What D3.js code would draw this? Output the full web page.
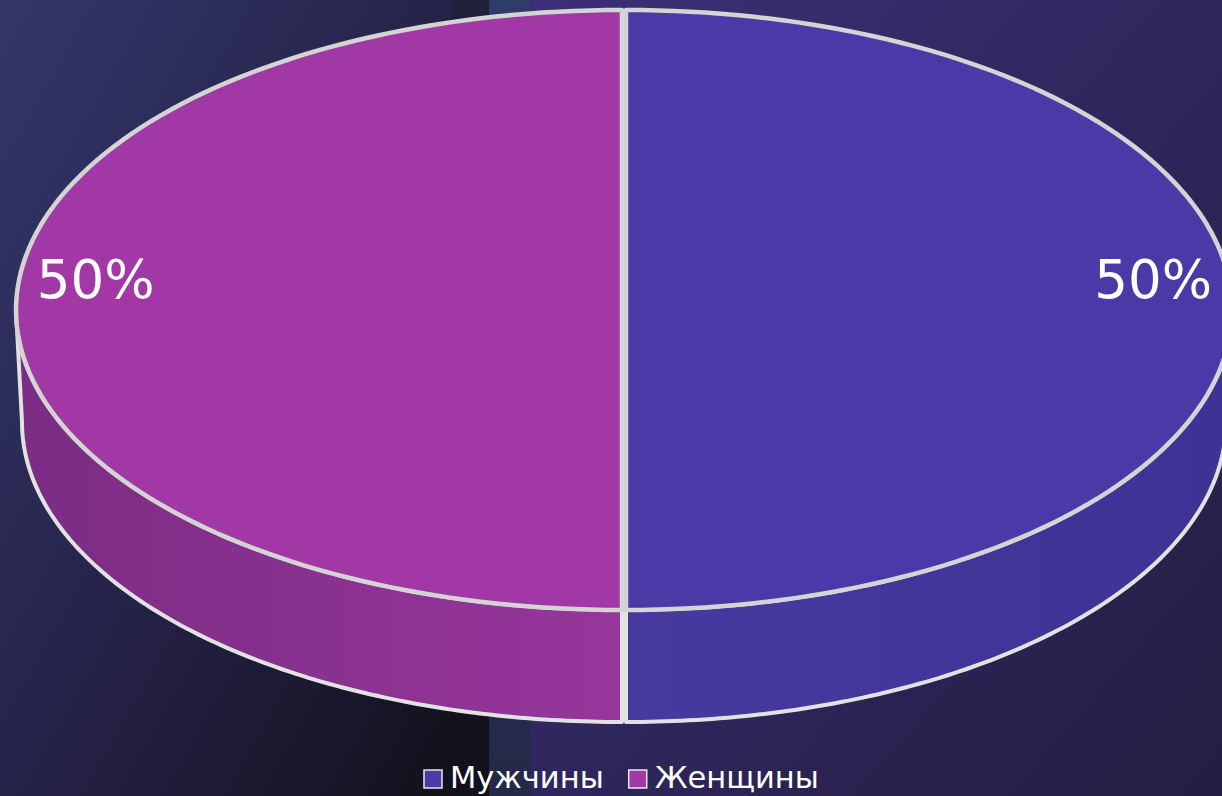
<!DOCTYPE html>
<html><head><meta charset="utf-8">
<script src="https://cdn.jsdelivr.net/npm/d3@7"></script>
<style>html,body{margin:0;padding:0;background:#1e1c38;overflow:hidden}svg{display:block}</style>
</head><body>
<script>
const categories = ["Мужчины", "Женщины"];
const values = [50, 50];
const labels = ["50%", "50%"];
const topColors = ["#4a3aa8", "#a238a5"];
const sideDark = ["#3c3395", "#7b2c83"];
const sideLight = ["#463a9f", "#97369c"];

const W = 1222, H = 796;
const svg = d3.select("body").append("svg").attr("width", W).attr("height", H)
  .style("font-family", "'DejaVu Sans', sans-serif");
const defs = svg.append("defs");

function lg(id, x1, y1, x2, y2, stops) {
  const g = defs.append("linearGradient").attr("id", id)
    .attr("x1", x1).attr("y1", y1).attr("x2", x2).attr("y2", y2);
  stops.forEach(s => g.append("stop").attr("offset", s[0]).attr("stop-color", s[1]));
}
lg("bgL", "0", "0", "1", "1", [[0, "#33376a"], [0.5, "#26234a"], [1, "#13101b"]]);
lg("bgD", "0", "0", "0", "1", [[0, "#20213a"], [1, "#12101a"]]);
lg("bgB", "0", "0", "0", "1", [[0, "#2f3b6b"], [1, "#232946"]]);
lg("bgR", "0", "0", "1", "1", [[0, "#3b3077"], [1, "#231e42"]]);
svg.append("rect").attr("x", 0).attr("y", 0).attr("width", 451).attr("height", H).attr("fill", "url(#bgL)");
svg.append("rect").attr("x", 451).attr("y", 0).attr("width", 38).attr("height", H).attr("fill", "url(#bgD)");
svg.append("rect").attr("x", 489).attr("y", 0).attr("width", 42).attr("height", H).attr("fill", "url(#bgB)");
svg.append("rect").attr("x", 531).attr("y", 0).attr("width", W - 531).attr("height", H).attr("fill", "url(#bgR)");

categories.forEach((c, i) => {
  lg("side" + i, "0", "0", "1", "0", i === 1
    ? [[0, sideDark[i]], [1, sideLight[i]]]
    : [[0, sideLight[i]], [1, sideDark[i]]]);
});

const cx = 624, cy = 310, rx = 606, ry = 300, depth = 112, rxB = 600;
const pie = d3.pie().sort(null).value(d => d)(values);

function pt(a, r, yc, rr) { return [cx + rr * Math.sin(a), yc - r * Math.cos(a)]; }
function arcPts(a0, a1, yc, rr) {
  const n = 120;
  return d3.range(n + 1).map(k => { const a = a0 + (a1 - a0) * k / n; return pt(a, ry, yc, rr); });
}
const line = d3.line();
const g = svg.append("g");

pie.forEach((p, i) => {
  const dx = i === 0 ? 2 : -2;
  const a0 = Math.max(p.startAngle, Math.PI / 2), a1 = Math.min(p.endAngle, 3 * Math.PI / 2);
  if (a1 <= a0) return;
  const topA = arcPts(a0, a1, cy, rx);
  const botA = arcPts(a0, a1, cy + depth, rxB).reverse();
  g.append("path").attr("d", line(topA.concat(botA)) + "Z")
    .attr("transform", `translate(${dx},0)`)
    .attr("fill", `url(#side${i})`).attr("stroke", "#e2e2e2").attr("stroke-width", 4)
    .attr("stroke-linejoin", "round");
});

pie.forEach((p, i) => {
  const dx = i === 0 ? 2 : -2;
  const pts = [[cx, cy]].concat(arcPts(p.startAngle, p.endAngle, cy, rx));
  g.append("path").attr("d", line(pts) + "Z")
    .attr("transform", `translate(${dx},0)`)
    .attr("fill", topColors[i]).attr("stroke", "#d4d4d4").attr("stroke-width", 4.5)
    .attr("stroke-linejoin", "round");
});

pie.forEach((p, i) => {
  const mid = (p.startAngle + p.endAngle) / 2;
  const [lx, ly] = pt(mid, ry * 0.875, cy, rx * 0.875);
  g.append("text").attr("x", lx + (i === 0 ? -1 : 2)).attr("y", ly - 12)
    .attr("text-anchor", "middle").attr("fill", "#ffffff")
    .attr("font-size", 53).text(labels[i]);
});

const legend = svg.append("g");
let lx = 424;
categories.forEach((c, i) => {
  legend.append("rect").attr("x", lx).attr("y", 770).attr("width", 18).attr("height", 18)
    .attr("fill", topColors[i]).attr("stroke", "#e8e8e8").attr("stroke-width", 1.5);
  const t = legend.append("text").attr("x", lx + 26).attr("y", 788)
    .attr("fill", "#ffffff").attr("font-size", 30.5).text(c);
  lx += 26 + t.node().getComputedTextLength() + 25;
});
</script>
</body></html>
